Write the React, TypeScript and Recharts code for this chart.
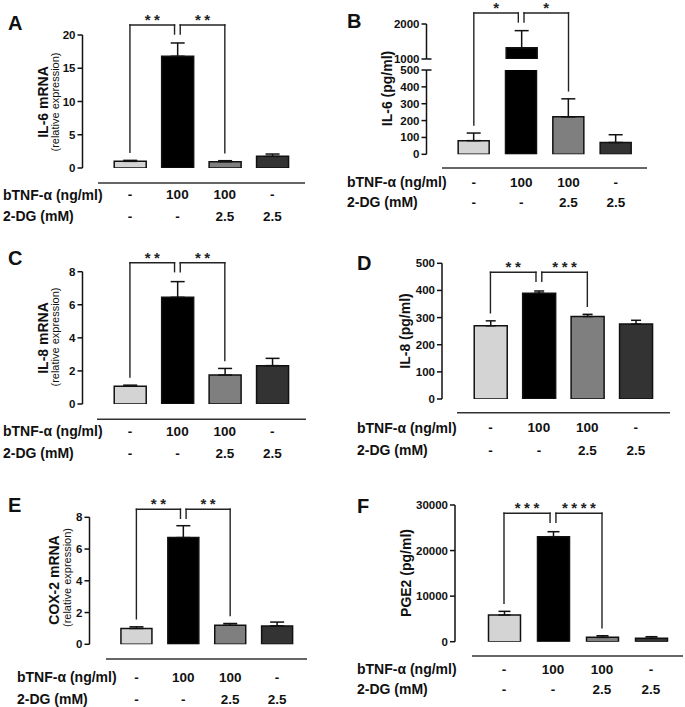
import React from 'react';
import { BarChart, Bar, Cell, XAxis, YAxis, ErrorBar, ReferenceLine } from 'recharts';

const FONT = '"Liberation Sans", Arial, Helvetica, sans-serif';
const INK = '#111111';

// treatment groups, drawn left to right at x = 1..4
const groups = ['Control', 'bTNF-α', 'bTNF-α + 2-DG', '2-DG'];
const groupPos = [1, 2, 3, 4];
const tnfDose = ['-', '100', '100', '-'];
const dgDose = ['-', '-', '2.5', '2.5'];

// mean and SEM per group
const il6mRNA = [1.0, 16.8, 0.95, 1.75];
const il6mRNASem = [0.15, 2.0, 0.15, 0.35];
const il6Protein = [81, 1320, 222, 70];
const il6ProteinSem = [45, 490, 107, 46];
const il8mRNA = [1.08, 6.45, 1.75, 2.32];
const il8mRNASem = [0.06, 0.95, 0.4, 0.44];
const il8Protein = [270, 390, 304, 276];
const il8ProteinSem = [18, 8, 8, 14];
const cox2mRNA = [1.0, 6.72, 1.2, 1.16];
const cox2mRNASem = [0.1, 0.75, 0.11, 0.24];
const pge2 = [5860, 23050, 950, 750];
const pge2Sem = [800, 1090, 350, 350];

type Bracket = [number, number, string];

// significance brackets: [from group, to group, stars]
const bracketsA: Bracket[] = [[1, 2, '**'], [2, 3, '**']];
const bracketsB: Bracket[] = [[1, 2, '*'], [2, 3, '*']];
const bracketsC: Bracket[] = [[1, 2, '**'], [2, 3, '**']];
const bracketsD: Bracket[] = [[1, 2, '**'], [2, 3, '***']];
const bracketsE: Bracket[] = [[1, 2, '**'], [2, 3, '**']];
const bracketsF: Bracket[] = [[1, 2, '***'], [2, 3, '****']];

const ticksA = [0, 5, 10, 15, 20];
const ticksBLow = [0, 100, 200, 300, 400, 500];
const ticksBHigh = [1000, 2000];
const ticksC = [0, 2, 4, 6, 8];
const ticksD = [0, 100, 200, 300, 400, 500];
const ticksE = [0, 2, 4, 6, 8];
const ticksF = [0, 10000, 20000, 30000];

// IL-6 protein axis is broken between these two values
const B_LOW_MAX = 500;
const B_HIGH_MIN = 1000;

const barFills = ['#d4d4d4', '#000000', '#7f7f7f', '#333333'];

type Row = { pos: number; group: string; mean: number; err: [number, number] };

function toRows(mean: number[], sem: number[]): Row[] {
  return mean.map((m, i) => ({ pos: groupPos[i], group: groups[i], mean: m, err: [0, sem[i]] }));
}

const rowsA = toRows(il6mRNA, il6mRNASem);
const rowsBLow = toRows(
  il6Protein,
  il6Protein.map((m, i) => (m <= B_LOW_MAX ? il6ProteinSem[i] : 0))
);
const rowsBHigh = toRows(il6Protein, il6ProteinSem).filter((r) => r.mean >= B_HIGH_MIN);
const rowsC = toRows(il8mRNA, il8mRNASem);
const rowsD = toRows(il8Protein, il8ProteinSem);
const rowsE = toRows(cox2mRNA, cox2mRNASem);
const rowsF = toRows(pge2, pge2Sem);

const Y_W = 50;
const X_H = 60;
const REF_GROUP = 2; // every comparison is against the bTNF-α group
const MID_SHIFT = 0.06;
const MID_DROP = 9; // px
const LEG_GAP = 8; // px

function DoseTick(props: any) {
  const { x, y, payload, rowDy } = props;
  const i = groupPos.indexOf(payload.value);
  if (i < 0) return null;
  return (
    <g fontFamily={FONT} fontSize={13.5} fontWeight={700} fill={INK}>
      <text x={x} y={y + rowDy[0]} textAnchor="middle" dominantBaseline="central">
        {tnfDose[i]}
      </text>
      <text x={x} y={y + rowDy[1]} textAnchor="middle" dominantBaseline="central">
        {dgDose[i]}
      </text>
    </g>
  );
}

function ValueTick(props: any) {
  const { x, y, payload, breakAt } = props;
  return (
    <g>
      <text
        x={x}
        y={y}
        textAnchor="end"
        dominantBaseline="central"
        fontFamily={FONT}
        fontSize={11.5}
        fontWeight={700}
        fill={INK}
      >
        {payload.value}
      </text>
      {payload.value === breakAt && (
        <line x1={x + 7} x2={x + 12} y1={y} y2={y} stroke={INK} strokeWidth={1.5} />
      )}
    </g>
  );
}

function bracketMarks(rows: Row[], brackets: Bracket[], level: number, upp: number) {
  const marks: React.ReactNode[] = [];
  const line = { stroke: '#222', strokeWidth: 1.4, strokeLinecap: 'square' as const, ifOverflow: 'visible' as const };
  brackets.forEach(([a, b, stars], k) => {
    const ends = [a, b].map((g) => {
      if (g === REF_GROUP) {
        return { x: g + (g === a ? MID_SHIFT : -MID_SHIFT), bottom: level - MID_DROP * upp };
      }
      const r = rows.find((row) => row.pos === g)!;
      return { x: g, bottom: r.mean + r.err[1] + LEG_GAP * upp };
    });
    marks.push(
      <ReferenceLine
        key={`h${k}`}
        segment={[{ x: ends[0].x, y: level }, { x: ends[1].x, y: level }]}
        {...line}
        label={{
          value: stars,
          position: 'top',
          offset: 0,
          fontSize: 15,
          fontWeight: 700,
          fill: '#222',
          letterSpacing: 3.5,
          dx: 1.75,
          fontFamily: FONT,
        }}
      />
    );
    ends.forEach((e, j) =>
      marks.push(
        <ReferenceLine
          key={`v${k}${j}`}
          segment={[{ x: e.x, y: level }, { x: e.x, y: e.bottom }]}
          {...line}
        />
      )
    );
  });
  return marks;
}

type PanelProps = {
  box: number[];
  plot: number[];
  rows: Row[];
  yMin?: number;
  yMax: number;
  ticks: number[];
  barSize: number;
  cap: number;
  brackets?: Bracket[];
  rise?: number;
  doseRows?: number[];
  breakAt?: number;
};

function Panel(p: PanelProps) {
  const [bx, by, bw, bh] = p.box;
  const [x0, y0, x1, y1] = p.plot;
  const yMin = p.yMin ?? 0;
  const upp = (p.yMax - yMin) / (y1 - y0);
  const xh = p.doseRows ? X_H : 0;
  const margin = {
    left: x0 - bx - Y_W,
    top: y0 - by,
    right: bx + bw - x1,
    bottom: by + bh - y1 - xh,
  };
  const level = p.yMax + (p.rise ?? 0) * upp;
  const rowDy = p.doseRows ? p.doseRows.map((r) => r - y1) : [0, 0];
  return (
    <div style={{ position: 'absolute', left: bx, top: by }}>
      <BarChart width={bw} height={bh} data={p.rows} margin={margin}>
        <XAxis
          type="number"
          dataKey="pos"
          domain={[0, 4.5]}
          ticks={groupPos}
          interval={0}
          hide={!p.doseRows}
          axisLine={false}
          tickLine={false}
          tickSize={0}
          tickMargin={0}
          height={X_H}
          tick={(t: any) => <DoseTick {...t} rowDy={rowDy} />}
        />
        <YAxis
          type="number"
          domain={[yMin, p.yMax]}
          ticks={p.ticks}
          interval={0}
          allowDataOverflow
          width={Y_W}
          tickSize={5}
          tickMargin={2}
          axisLine={{ stroke: INK, strokeWidth: 1.5 }}
          tickLine={{ stroke: INK, strokeWidth: 1.5 }}
          tick={(t: any) => <ValueTick {...t} breakAt={p.breakAt} />}
        />
        <Bar dataKey="mean" barSize={p.barSize} stroke={INK} strokeWidth={1.5} isAnimationActive={false}>
          {p.rows.map((r) => (
            <Cell key={r.group} fill={barFills[r.pos - 1]} />
          ))}
          <ErrorBar
            dataKey="err"
            direction="y"
            width={p.cap}
            stroke={INK}
            strokeWidth={1.5}
            isAnimationActive={false}
          />
        </Bar>
        {p.brackets && bracketMarks(p.rows, p.brackets, level, upp)}
      </BarChart>
    </div>
  );
}

// letters, axis titles, treatment row headers and rules above them
const panelText = [
  { letter: 'A', at: [8, 30], title: ['IL-6 mRNA', 43, 102], sub: ['(relative expression)', 55, 102], rowX: 3, rowY: [194.5, 216], rule: [98, 305, 183] },
  { letter: 'B', at: [347, 28], title: ['IL-6 (pg/ml)', 387, 88.5], sub: null, rowX: 347, rowY: [182, 202], rule: [442, 647, 168] },
  { letter: 'C', at: [8, 265], title: ['IL-8 mRNA', 43, 338], sub: ['(relative expression)', 55, 337], rowX: 3, rowY: [431, 453], rule: [97, 306, 419.3] },
  { letter: 'D', at: [357, 270], title: ['IL-8 (pg/ml)', 405, 331], sub: null, rowX: 357, rowY: [427.5, 450], rule: [457, 670, 412.7] },
  { letter: 'E', at: [8, 512], title: ['COX-2 mRNA', 54, 580], sub: ['(relative expression)', 67, 577.5], rowX: 17, rowY: [677, 699], rule: [106, 307, 659] },
  { letter: 'F', at: [357, 513], title: ['PGE2 (pg/ml)', 406, 573], sub: null, rowX: 357, rowY: [669, 689], rule: [472, 683, 656] },
];

function Annotations() {
  return (
    <svg
      width={685}
      height={707}
      style={{ position: 'absolute', left: 0, top: 0, pointerEvents: 'none' }}
      fontFamily={FONT}
      fill={INK}
    >
      {panelText.map((p) => (
        <g key={p.letter}>
          <text x={p.at[0]} y={p.at[1]} fontSize={20} fontWeight={700}>
            {p.letter}
          </text>
          <text
            transform={`translate(${p.title[1]},${p.title[2]}) rotate(-90)`}
            textAnchor="middle"
            dominantBaseline="central"
            fontSize={14}
            fontWeight={700}
          >
            {p.title[0]}
          </text>
          {p.sub && (
            <text
              transform={`translate(${p.sub[1]},${p.sub[2]}) rotate(-90)`}
              textAnchor="middle"
              dominantBaseline="central"
              fontSize={11}
            >
              {p.sub[0]}
            </text>
          )}
          <text x={p.rowX} y={p.rowY[0]} dominantBaseline="central" fontSize={14} fontWeight={700}>
            bTNF-α (ng/ml)
          </text>
          <text x={p.rowX} y={p.rowY[1]} dominantBaseline="central" fontSize={14} fontWeight={700}>
            2-DG (mM)
          </text>
          <line x1={p.rule[0]} x2={p.rule[1]} y1={p.rule[2]} y2={p.rule[2]} stroke="#333" strokeWidth={1.5} />
        </g>
      ))}
    </svg>
  );
}

export default function App() {
  return (
    <div
      style={{
        position: 'absolute',
        left: 0,
        top: 0,
        width: 685,
        height: 707,
        background: '#fff',
        overflow: 'hidden',
        fontFamily: FONT,
      }}
    >
      <Panel box={[0, 0, 340, 240]} plot={[82.5, 35, 296, 168]} rows={rowsA} yMax={20} ticks={ticksA} barSize={32} cap={7} brackets={bracketsA} rise={10} doseRows={[194.5, 216]} />
      <Panel box={[340, 0, 345, 240]} plot={[426.5, 70, 639.5, 154.3]} rows={rowsBLow} yMax={B_LOW_MAX} ticks={ticksBLow} barSize={31} cap={7} brackets={bracketsB} rise={57} doseRows={[182, 202]} breakAt={B_LOW_MAX} />
      <Panel box={[340, 0, 345, 240]} plot={[426.5, 24, 639.5, 59]} rows={rowsBHigh} yMin={B_HIGH_MIN} yMax={2000} ticks={ticksBHigh} barSize={31} cap={7} breakAt={B_HIGH_MIN} />
      <Panel box={[0, 230, 340, 240]} plot={[82.5, 271.7, 296, 404]} rows={rowsC} yMax={8} ticks={ticksC} barSize={32} cap={7} brackets={bracketsC} rise={9} doseRows={[431, 453]} />
      <Panel box={[340, 230, 345, 240]} plot={[442, 263.3, 660, 399]} rows={rowsD} yMax={500} ticks={ticksD} barSize={33} cap={5} brackets={bracketsD} rise={-9} doseRows={[427.5, 450]} />
      <Panel box={[0, 470, 340, 237]} plot={[89.5, 517.3, 300.5, 644.3]} rows={rowsE} yMax={8} ticks={ticksE} barSize={31} cap={7} brackets={bracketsE} rise={8} doseRows={[677, 699]} />
      <Panel box={[340, 470, 345, 237]} plot={[455, 505, 675.5, 641.7]} rows={rowsF} yMax={30000} ticks={ticksF} barSize={32} cap={6} brackets={bracketsF} rise={-8.3} doseRows={[669, 689]} />
      <Annotations />
    </div>
  );
}
